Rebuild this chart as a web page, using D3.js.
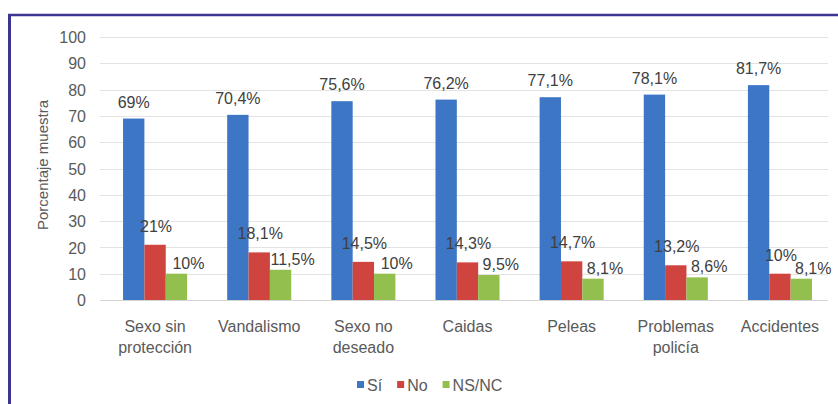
<!DOCTYPE html>
<html>
<head>
<meta charset="utf-8">
<script src="https://cdn.jsdelivr.net/npm/d3@7"></script>
<style>
  html, body { margin: 0; padding: 0; background: #ffffff; }
  svg { display: block; font-family: "Liberation Sans", Arial, sans-serif; }
</style>
</head>
<body>
<svg id="chart" width="838" height="404"></svg>
<script>
// Categories (two-line labels split with "\n")
const categories = [
  "Sexo sin\nprotección",
  "Vandalismo",
  "Sexo no\ndeseado",
  "Caidas",
  "Peleas",
  "Problemas\npolicía",
  "Accidentes"
];

// Series values (percent of sample)
const seriesNames = ["Sí", "No", "NS/NC"];
const siValues   = [69, 70.4, 75.6, 76.2, 77.1, 78.1, 81.7];
const noValues   = [21, 18.1, 14.5, 14.3, 14.7, 13.2, 10];
const nsncValues = [10, 11.5, 10, 9.5, 8.1, 8.6, 8.1];

const yTicks = [0, 10, 20, 30, 40, 50, 60, 70, 80, 90, 100];
const yTitle = "Porcentaje muestra";

const colors = ["#3e76c6", "#d0443f", "#93bf4f"];
const seriesValues = [siValues, noValues, nsncValues];

// Data label placement per series: horizontal shift and gap above the bar
const labelShift = [{ dx: 0, dy: -11 }, { dx: 1, dy: -13 }, { dx: 12, dy: -5 }];

const svg = d3.select("#chart");

// Frame lines along the top and left edges
svg.append("line").attr("x1", 8).attr("x2", 838).attr("y1", 15).attr("y2", 15)
  .attr("stroke", "#3b3591").attr("stroke-width", 2.5);
svg.append("line").attr("x1", 9.5).attr("x2", 9.5).attr("y1", 14).attr("y2", 404)
  .attr("stroke", "#3b3591").attr("stroke-width", 3);

const plot = { left: 100, right: 828, top: 37, bottom: 300 };

const x0 = d3.scaleBand()
  .domain(categories)
  .range([103, 832])
  .paddingInner(0.385)
  .paddingOuter(0.1925);

const x1 = d3.scaleBand()
  .domain(seriesNames)
  .range([0, x0.bandwidth()]);

const y = d3.scaleLinear().domain([0, 100]).range([plot.bottom, plot.top]);

// Horizontal gridlines
svg.append("g").selectAll("line")
  .data(yTicks.filter(t => t > 0))
  .join("line")
  .attr("x1", plot.left).attr("x2", plot.right)
  .attr("y1", d => Math.round(y(d)) + 0.5).attr("y2", d => Math.round(y(d)) + 0.5)
  .attr("stroke", "#e3e3e3").attr("stroke-width", 1);

// Y axis labels
const yAxis = d3.axisLeft(y).tickValues(yTicks).tickSize(0).tickPadding(0);
const gy = svg.append("g").attr("transform", "translate(86,0)").call(yAxis);
gy.select(".domain").remove();
gy.selectAll("text")
  .attr("fill", "#5a5a5a")
  .style("font-size", "16px")
  .style("font-family", "'Liberation Sans', Arial, sans-serif")
  .attr("dy", "0.35em");

// Y axis title
svg.append("text")
  .attr("transform", "translate(48,165) rotate(-90)")
  .attr("text-anchor", "middle")
  .attr("fill", "#5a5a5a")
  .style("font-size", "15px")
  .text(yTitle);

// Bars
const groups = svg.append("g").selectAll("g")
  .data(categories)
  .join("g")
  .attr("transform", d => `translate(${x0(d)},0)`);

groups.each(function(cat, ci) {
  const g = d3.select(this);
  seriesNames.forEach((s, si) => {
    const v = seriesValues[si][ci];
    g.append("rect")
      .attr("x", x1(s))
      .attr("y", y(v))
      .attr("width", x1.bandwidth())
      .attr("height", y(0) - y(v))
      .attr("fill", colors[si]);
  });
});

// X axis baseline
svg.append("line")
  .attr("x1", plot.left).attr("x2", plot.right)
  .attr("y1", plot.bottom + 0.5).attr("y2", plot.bottom + 0.5)
  .attr("stroke", "#d6d6d6");

// Data labels
groups.each(function(cat, ci) {
  const g = d3.select(this);
  seriesNames.forEach((s, si) => {
    const v = seriesValues[si][ci];
    g.append("text")
      .attr("x", x1(s) + x1.bandwidth() / 2 + labelShift[si].dx)
      .attr("y", y(v) + labelShift[si].dy)
      .attr("text-anchor", "middle")
      .attr("fill", "#404040")
      .style("font-size", "16px")
      .text(String(v).replace(".", ",") + "%");
  });
});

// Category labels
const xLabels = svg.append("g").selectAll("text")
  .data(categories)
  .join("text")
  .attr("text-anchor", "middle")
  .attr("fill", "#5a5a5a")
  .style("font-size", "16px");
xLabels.each(function(d) {
  const t = d3.select(this);
  d.split("\n").forEach((line, i) => {
    t.append("tspan")
      .attr("x", x0(d) + x0.bandwidth() / 2)
      .attr("y", 332 + i * 21)
      .text(line);
  });
});

// Legend
const legend = svg.append("g").attr("transform", "translate(357,0)");
let lx = 0;
seriesNames.forEach((s, i) => {
  legend.append("rect")
    .attr("x", lx).attr("y", 381)
    .attr("width", 7).attr("height", 7)
    .attr("fill", colors[i]);
  const txt = legend.append("text")
    .attr("x", lx + 10).attr("y", 391)
    .attr("fill", "#5a5a5a")
    .style("font-size", "16px")
    .text(s);
  lx += 10 + txt.node().getComputedTextLength() + 15;
});
</script>
</body>
</html>
